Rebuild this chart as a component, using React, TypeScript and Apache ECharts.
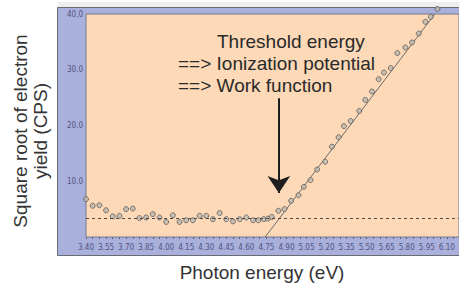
import React, { useEffect, useRef } from "react";
import * as echarts from "echarts";

// Photon energy (eV) of each measured point
const energyEV = [
  3.40, 3.45, 3.50, 3.55, 3.60, 3.65, 3.70, 3.75, 3.80, 3.85, 3.90, 3.95, 4.00,
  4.05, 4.10, 4.15, 4.20, 4.25, 4.30, 4.35, 4.40, 4.45, 4.50, 4.55, 4.60, 4.65,
  4.69, 4.73, 4.76, 4.79, 4.84, 4.885, 4.935, 4.99, 5.03, 5.08, 5.13, 5.19,
  5.24, 5.29, 5.33, 5.38, 5.445, 5.49, 5.54, 5.59, 5.63, 5.68, 5.73, 5.79,
  5.84, 5.89, 5.94, 5.98, 6.03,
];
// Square root of electron yield (CPS)
const sqrtYield = [
  6.8, 5.6, 5.7, 4.8, 3.7, 3.8, 5.0, 5.1, 3.4, 3.5, 4.1, 3.5, 2.7,
  3.9, 2.7, 3.0, 3.0, 3.8, 3.8, 3.2, 4.3, 3.2, 2.8, 3.2, 3.5, 3.0,
  3.0, 3.2, 3.3, 3.6, 4.7, 5.0, 6.5, 7.5, 9.0, 10.2, 12.1, 13.5,
  16.2, 17.9, 19.9, 20.8, 22.6, 24.6, 26.1, 28.3, 29.5, 30.3, 33.0, 34.0,
  34.9, 36.5, 38.6, 39.5, 40.9,
];
// Background level (dashed) and linear fit (two ends)
const backgroundLevel = 3.4;
const fitX = [4.741, 6.01];
const fitY = [0, 40];
// Arrow pointing at the threshold
const arrowX = 4.843;
const arrowFromY = 24.9;
const arrowToY = 7.9;
// Axis ranges / ticks
const xMin = 3.4;
const xMax = 6.191;
const xStep = 0.05;
const yMin = 0;
const yMax = 40;
const yStep = 10;
// Texts
const annotationLines = [
  "Threshold energy",
  "==> Ionization potential",
  "==> Work function",
];
const xTitle = "Photon energy (eV)";
const yTitle = ["Square root of electron", "yield (CPS)"];

const FONT = '"Liberation Sans", Arial, Helvetica, sans-serif';
const TICK_FONT = '"Liberation Sans Narrow", "DejaVu Sans Condensed", "Liberation Sans", sans-serif';

export default function App() {
  const ref = useRef<HTMLDivElement>(null);

  useEffect(() => {
    if (!ref.current) return;
    const chart = echarts.init(ref.current, undefined, { renderer: "svg" });
    const points = energyEV.map((x, i) => [x, sqrtYield[i]]);
    const fit = fitX.map((x, i) => [x, fitY[i]]);

    chart.setOption({
      animation: false,
      grid: {
        left: 86,
        top: 14,
        right: -1,
        bottom: 49,
        show: true,
        backgroundColor: "#fdd9b7",
        borderColor: "#74788f",
        borderWidth: 1,
        z: 1,
      },
      graphic: [
        {
          type: "rect",
          z: -10,
          shape: { x: 57.5, y: 7.5, width: 420, height: 248 },
          style: { fill: "#aab0dc", stroke: "#6b6b74", lineWidth: 1 },
        },
        {
          type: "rect",
          z: -11,
          shape: { x: 58, y: 2, width: 420, height: 5 },
          style: { fill: "#eeeeee" },
        },
        {
          type: "text",
          z: 100,
          x: 217,
          y: 41,
          style: {
            text: annotationLines[0],
            font: `19px ${FONT}`,
            fill: "#2a2a2a",
            textVerticalAlign: "middle",
          },
        },
        {
          type: "text",
          z: 100,
          x: 178,
          y: 63,
          style: {
            text: annotationLines[1],
            font: `19px ${FONT}`,
            fill: "#2a2a2a",
            textVerticalAlign: "middle",
          },
        },
        {
          type: "text",
          z: 100,
          x: 178,
          y: 85,
          style: {
            text: annotationLines[2],
            font: `19px ${FONT}`,
            fill: "#2a2a2a",
            textVerticalAlign: "middle",
          },
        },
        {
          type: "text",
          z: 100,
          x: 262,
          y: 272,
          style: {
            text: xTitle,
            font: `19px ${FONT}`,
            fill: "#333333",
            textAlign: "center",
            textVerticalAlign: "middle",
          },
        },
        {
          type: "text",
          z: 100,
          x: 30,
          y: 131,
          rotation: Math.PI / 2,
          style: {
            text: yTitle.join("\n"),
            font: `19px ${FONT}`,
            lineHeight: 20,
            fill: "#333333",
            textAlign: "center",
            textVerticalAlign: "middle",
          },
        },
      ],
      xAxis: {
        type: "value",
        min: xMin,
        max: xMax,
        interval: xStep,
        axisLine: { show: false },
        axisTick: { show: true, length: 2, lineStyle: { color: "#555a70", width: 1 } },
        splitLine: { show: false },
        axisLabel: {
          show: true,
          margin: 6,
          fontSize: 8,
          fontFamily: TICK_FONT,
          color: "#4f547c",
          showMaxLabel: false,
          formatter: (v: number) => {
            const k = Math.round((v - xMin) / xStep);
            return k % 3 === 0 ? v.toFixed(2) : "";
          },
        },
      },
      yAxis: {
        type: "value",
        min: yMin,
        max: yMax,
        interval: yStep,
        axisLine: { show: false },
        axisTick: { show: false },
        splitLine: { show: false },
        axisLabel: {
          show: true,
          margin: 3,
          fontSize: 8,
          fontFamily: TICK_FONT,
          color: "#4f547c",
          showMinLabel: false,
          formatter: (v: number) => v.toFixed(1),
        },
      },
      series: [
        {
          type: "line",
          data: fit,
          symbol: "none",
          z: 3,
          lineStyle: { color: "#6a6a6a", width: 1 },
          markLine: {
            silent: true,
            symbol: "none",
            label: { show: false },
            lineStyle: { color: "#4a4a4a", type: [3, 3], width: 1 },
            data: [{ yAxis: backgroundLevel }],
          },
        },
        {
          type: "scatter",
          data: points,
          symbol: "circle",
          symbolSize: 5,
          clip: false,
          z: 4,
          itemStyle: { color: "#bdb6ad", borderColor: "#5e5e5e", borderWidth: 1 },
          markLine: {
            silent: true,
            symbol: ["none", "arrow"],
            symbolSize: 17,
            label: { show: false },
            lineStyle: { color: "#1e1e1e", type: "solid", width: 2 },
            data: [
              [
                { coord: [arrowX, arrowFromY] },
                { coord: [arrowX, arrowToY] },
              ],
            ],
          },
        },
      ],
    });
    return () => chart.dispose();
  }, []);

  return (
    <div
      ref={ref}
      style={{ position: "absolute", left: 0, top: 0, width: 459, height: 286, background: "#ffffff" }}
    />
  );
}
